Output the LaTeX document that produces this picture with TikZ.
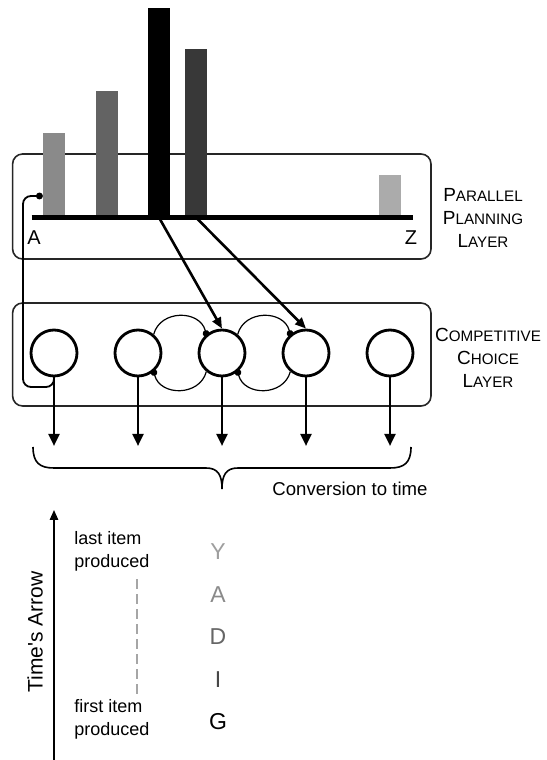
\documentclass[tikz,border=0pt]{standalone}
\usepackage{fontspec}
\setmainfont{Liberation Sans}
\usetikzlibrary{positioning,arrows.meta,calc}

\newcommand{\layercap}[2]{#1{\fontsize{7.6}{9}\selectfont #2}}

\begin{document}
\begin{tikzpicture}[
  x=0.5pt, y=0.5pt,
  node distance=17.6pt,
  layerbox/.style={draw=black!85, line width=0.8pt, rounded corners=5pt},
  barcol/.style={rectangle, draw=none, minimum width=11pt, inner sep=0pt, anchor=south},
  unitnode/.style={circle, draw, line width=1.4pt, fill=white, minimum size=23pt, inner sep=0pt},
  feed/.style={-{Triangle[length=5.5pt,width=4.6pt]}, line width=1.3pt},
  emit/.style={-{Triangle[length=6pt,width=5.4pt]}, line width=1.3pt},
  inhib/.style={-{Circle[length=3.4pt]}, line width=0.6pt, shorten >=-1.3pt},
  loopback/.style={-{Circle[length=3.4pt]}, line width=0.9pt, rounded corners=4pt},
  caption/.style={font=\fontsize{9.5}{11.5}\selectfont, align=center, inner sep=0pt},
  note/.style={font=\fontsize{9}{11.5}\selectfont, align=left, inner sep=0pt, anchor=west},
  letter/.style={font=\fontsize{11.5}{12}\selectfont, inner sep=0pt},
  endlabel/.style={font=\fontsize{10}{12}\selectfont, inner sep=0pt}
]
\useasboundingbox (0,0) rectangle (546,760);

% ---------------- Camadas ----------------
\draw[layerbox] (12.6,501) rectangle (431,606);
\draw[layerbox] (12.6,354) rectangle (431,457);

\node[caption] (ppl) at (483,542) {\layercap{P}{ARALLEL}\\\layercap{P}{LANNING}\\\layercap{L}{AYER}};
\node[caption] (ccl) at (488,402) {\layercap{C}{OMPETITIVE}\\\layercap{C}{HOICE}\\\layercap{L}{AYER}};

% ---------------- Barras do plano ----------------
\node[barcol, fill=black!46, minimum height=42.25pt]  (b1) at (54.25,542.5) {};
\node[barcol, fill=black!61, minimum height=63.25pt]  (b2) at (107,542.5) {};
\node[barcol, fill=black,    minimum height=104.75pt] (b3) at (159,542.5) {};
\node[barcol, fill=black!78, minimum height=84.25pt]  (b4) at (196,542.5) {};
\node[barcol, fill=black!33, minimum height=21.25pt]  (b5) at (390,542.5) {};

\coordinate (la) at (31.5,542.5);
\coordinate (lz) at (413,542.5);
\draw[line width=2.5pt] (la) -- (lz);
\node[endlabel] (A) at (34,522) {A};
\node[endlabel] (Z) at (411,522) {Z};

% ---------------- Unidades de escolha ----------------
\node[unitnode] (c1) at (54,407) {};
\node[unitnode, right=of c1] (c2) {};
\node[unitnode, right=of c2] (c3) {};
\node[unitnode, right=of c3] (c4) {};
\node[unitnode, right=of c4] (c5) {};

\draw[inhib] (c2.50) to[out=75, in=105, looseness=1.25] (c3.130);
\draw[inhib] (c3.230) to[out=-105, in=-75, looseness=1.25] (c2.-50);
\draw[inhib] (c3.50) to[out=75, in=105, looseness=1.25] (c4.130);
\draw[inhib] (c4.230) to[out=-105, in=-75, looseness=1.25] (c3.-50);

\draw[feed] (b3.south) -- (c3.north);
\draw[feed] (b4.south) -- (c4.north);

% ---------------- Saidas ----------------
\coordinate[below=34.3pt of c1.south] (o1);
\coordinate[below=34.3pt of c2.south] (o2);
\coordinate[below=34.3pt of c3.south] (o3);
\coordinate[below=34.3pt of c4.south] (o4);
\coordinate[below=34.3pt of c5.south] (o5);
\draw[emit] (c1.south) -- (o1);
\draw[emit] (c2.south) -- (o2);
\draw[emit] (c3.south) -- (o3);
\draw[emit] (c4.south) -- (o4);
\draw[emit] (c5.south) -- (o5);

\coordinate (fb0) at ($(c1.south)+(0,-9.6)$);
\coordinate (fbend) at ($(b1.south west)+(0,21.5)$);
\draw[loopback] (c1.south) -- (fb0) -- ++(-31,0) |- (fbend);

% ---------------- Chave ----------------
\draw[line width=0.8pt] (33,313) .. controls (33,297) and (40,292) .. (54,292) -- (206,292)
  .. controls (218,292) and (222,285) .. (222,271)
  .. controls (222,285) and (226,292) .. (238,292) -- (390,292)
  .. controls (404,292) and (411,297) .. (411,313);
\node[caption, font=\fontsize{9.3}{11.5}\selectfont] (conv) at (350,271) {Conversion to time};

% ---------------- Eixo do tempo ----------------
\coordinate (t0) at (54,0);
\coordinate (t1) at (54,250);
\draw[-{Triangle[length=5pt,width=4.2pt]}, line width=0.8pt] (t0) -- (t1);
\node[endlabel, font=\fontsize{10.5}{12}\selectfont, rotate=90] (tarrow) at (35,128) {Time\textquotesingle s Arrow};

\node[note] (lastp) at (74,208.5) {last item\\produced};
\node[note] (firstp) at (74,41) {first item\\produced};
\draw[black!35, line width=1pt, dash pattern=on 5pt off 2.5pt]
  ([xshift=12.7pt,yshift=-3.8pt]lastp.south) -- ([xshift=12.7pt,yshift=2pt]firstp.north);

\node[letter, text=black!38] (ly) at (218,208) {Y};
\node[letter, text=black!46] (la2) at (218,165) {A};
\node[letter, text=black!60] (ld) at (218,123) {D};
\node[letter, text=black!72] (li) at (218,80) {I};
\node[letter, text=black]    (lg) at (218,38) {G};

\end{tikzpicture}
\end{document}
